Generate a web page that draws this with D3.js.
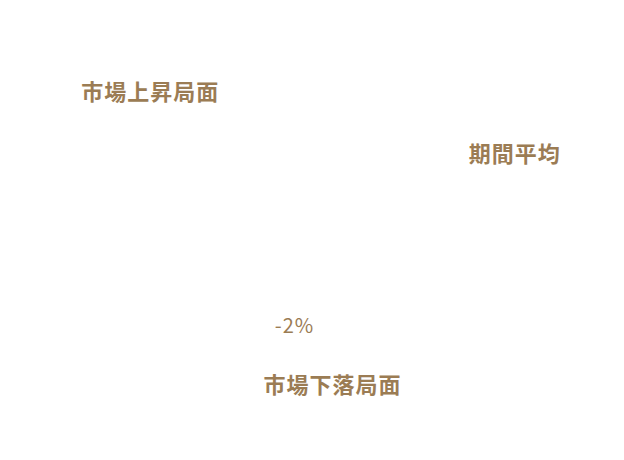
<!DOCTYPE html>
<html>
<head>
<meta charset="utf-8">
<script src="https://cdn.jsdelivr.net/npm/d3@7"></script>
<style>
  body { margin: 0; background: #fff; }
  text { font-family: "Noto Sans CJK JP", "Noto Sans", sans-serif; }
</style>
</head>
<body>
<div id="chart"></div>
<script>
const categories = ["市場上昇局面", "市場下落局面", "期間平均"];
const values = [2.3, -2, 1.25];
const valueLabels = [null, "-2%", null];

const width = 624, height = 460;
const gold = "#9b7c54";

const svg = d3.select("#chart")
    .append("svg")
    .attr("width", width)
    .attr("height", height)
    .style("background-color", "white");

const x = d3.scaleBand()
    .domain(categories)
    .range([59, 606])
    .paddingInner(0.3)
    .paddingOuter(0.15);

const y = d3.scaleLinear()
    .domain([-2, 2.3])
    .range([365, 110]);

const data = categories.map((c, i) => ({ cat: c, value: values[i], label: valueLabels[i] }));

// bars (white on white, as in the reference)
svg.append("g")
    .selectAll("rect")
    .data(data)
    .join("rect")
    .attr("x", d => x(d.cat))
    .attr("width", x.bandwidth())
    .attr("y", d => y(Math.max(0, d.value)))
    .attr("height", d => Math.abs(y(d.value) - y(0)))
    .attr("fill", "white");

// category labels, above positive bars and below negative bars
svg.append("g")
    .selectAll("text")
    .data(data)
    .join("text")
    .attr("x", d => x(d.cat) + x.bandwidth() / 2)
    .attr("y", d => d.value >= 0 ? y(d.value) - 10 : y(d.value) + 28)
    .attr("text-anchor", "middle")
    .style("font-size", "22px")
    .style("font-weight", 700)
    .style("letter-spacing", "1px")
    .style("fill", gold)
    .text(d => d.cat);

// value labels
svg.append("g")
    .selectAll("text")
    .data(data.filter(d => d.label))
    .join("text")
    .attr("x", d => x(d.cat) + x.bandwidth() / 2 - 38)
    .attr("y", d => y(d.value) - 32)
    .attr("text-anchor", "middle")
    .style("font-size", "20px")
    .style("letter-spacing", "1px")
    .style("fill", gold)
    .text(d => d.label);
</script>
</body>
</html>
